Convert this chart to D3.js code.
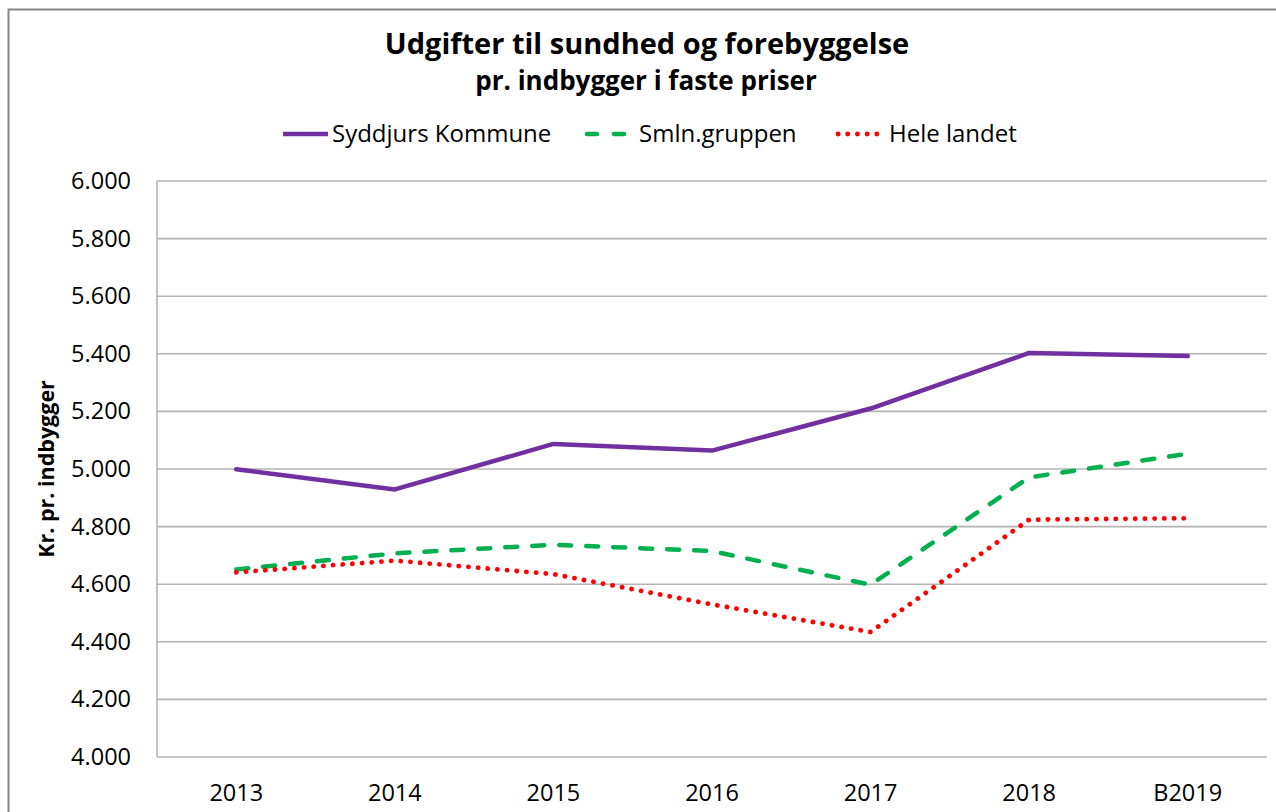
<!DOCTYPE html>
<html><head><meta charset="utf-8">
<script src="https://cdn.jsdelivr.net/npm/d3@7"></script>
<style>
html,body{margin:0;padding:0;background:#fff;}
svg{display:block;}
text{font-family:"Open Sans",sans-serif;fill:#000;}
</style></head>
<body>
<svg id="chart" width="1276" height="812"></svg>
<script>
const categories = ["2013","2014","2015","2016","2017","2018","B2019"];
const syddjurs = [4999, 4929, 5087, 5064, 5210, 5403, 5392];
const smln = [4651, 4707, 4737, 4715, 4598, 4971, 5053];
const heleLandet = [4641, 4682, 4635, 4530, 4434, 4824, 4829];
const yTicks = [4000, 4200, 4400, 4600, 4800, 5000, 5200, 5400, 5600, 5800, 6000];
const seriesNames = ["Syddjurs Kommune", "Smln.gruppen", "Hele landet"];

const series = [
  {name: seriesNames[0], values: syddjurs, color: "#7030a0", dash: null, cap: "round", width: 4.5},
  {name: seriesNames[1], values: smln, color: "#00b050", dash: "12,15", cap: "round", width: 4.5},
  {name: seriesNames[2], values: heleLandet, color: "#ff0000", dash: "0.1,9.6", cap: "round", width: 4.8}
];

const svg = d3.select("#chart");
const W = 1276, H = 812;
const plot = {left: 157, right: 1267, top: 181, bottom: 757};

// outer border
svg.append("rect").attr("x", 8.5).attr("y", 9.5).attr("width", W + 10).attr("height", H + 10)
  .attr("fill", "#fff").attr("stroke", "#868686").attr("stroke-width", 2);

const x = d3.scaleBand().domain(categories).range([plot.left, plot.right]).padding(0);
const y = d3.scaleLinear().domain([4000, 6000]).range([plot.bottom, plot.top]);
const loc = d3.formatLocale({decimal: ",", thousands: ".", grouping: [3], currency: ["", " kr"]});
const fmt = loc.format(",.0f");

// gridlines
svg.append("g").selectAll("line").data(yTicks).join("line")
  .attr("x1", plot.left).attr("x2", plot.right)
  .attr("y1", d => y(d)).attr("y2", d => y(d))
  .attr("stroke", "#b3b3b3").attr("stroke-width", 1.6);

// left axis line
svg.append("line").attr("x1", plot.left).attr("x2", plot.left)
  .attr("y1", plot.top).attr("y2", plot.bottom)
  .attr("stroke", "#b3b3b3").attr("stroke-width", 1.6);

// y axis
const yAxis = d3.axisLeft(y).tickValues(yTicks).tickFormat(fmt).tickSize(0).tickPadding(26);
const gy = svg.append("g").attr("transform", `translate(${plot.left},0)`).call(yAxis);
gy.select(".domain").remove();
gy.selectAll("text").style("font-family", "'Open Sans',sans-serif").style("font-size", "23.5px").attr("fill", "#000");

// x axis
const xAxis = d3.axisBottom(x).tickSize(0).tickPadding(27);
const gx = svg.append("g").attr("transform", `translate(0,${plot.bottom})`).call(xAxis);
gx.select(".domain").remove();
gx.selectAll("text").style("font-family", "'Open Sans',sans-serif").style("font-size", "23.5px").attr("fill", "#000");

// lines
const line = d3.line().x((d, i) => x(categories[i]) + x.bandwidth() / 2).y(d => y(d));
series.forEach(s => {
  svg.append("path").datum(s.values).attr("d", line)
    .attr("fill", "none").attr("stroke", s.color).attr("stroke-width", s.width)
    .attr("stroke-linecap", s.cap).attr("stroke-linejoin", "round")
    .attr("stroke-dasharray", s.dash);
});

// title
svg.append("text").attr("x", 647).attr("y", 54).attr("text-anchor", "middle")
  .style("font-size", "29px").style("font-weight", "bold")
  .text("Udgifter til sundhed og forebyggelse");
svg.append("text").attr("x", 646).attr("y", 90).attr("text-anchor", "middle")
  .style("font-size", "26px").style("font-weight", "bold")
  .text("pr. indbygger i faste priser");

// legend
const legendItems = [
  {x0: 283, x1: 328, tx: 332},
  {x0: 587, x1: 635, tx: 639},
  {x0: 838, x1: 885, tx: 889}
];
series.forEach((s, i) => {
  const li = legendItems[i];
  svg.append("line").attr("x1", li.x0).attr("x2", li.x1).attr("y1", 134).attr("y2", 134)
    .attr("stroke", s.color).attr("stroke-width", s.width)
    .attr("stroke-linecap", s.cap === "round" && !s.dash ? "butt" : s.cap)
    .attr("stroke-dasharray", i === 1 ? "10,17" : s.dash);
  svg.append("text").attr("x", li.tx).attr("y", 134).attr("dy", "0.35em")
    .style("font-size", "24px").text(s.name);
});

// y axis title
svg.append("text").attr("transform", "translate(54,469) rotate(-90)")
  .attr("text-anchor", "middle").style("font-size", "21.5px").style("font-weight", "bold")
  .text("Kr. pr. indbygger");
</script>
</body></html>
